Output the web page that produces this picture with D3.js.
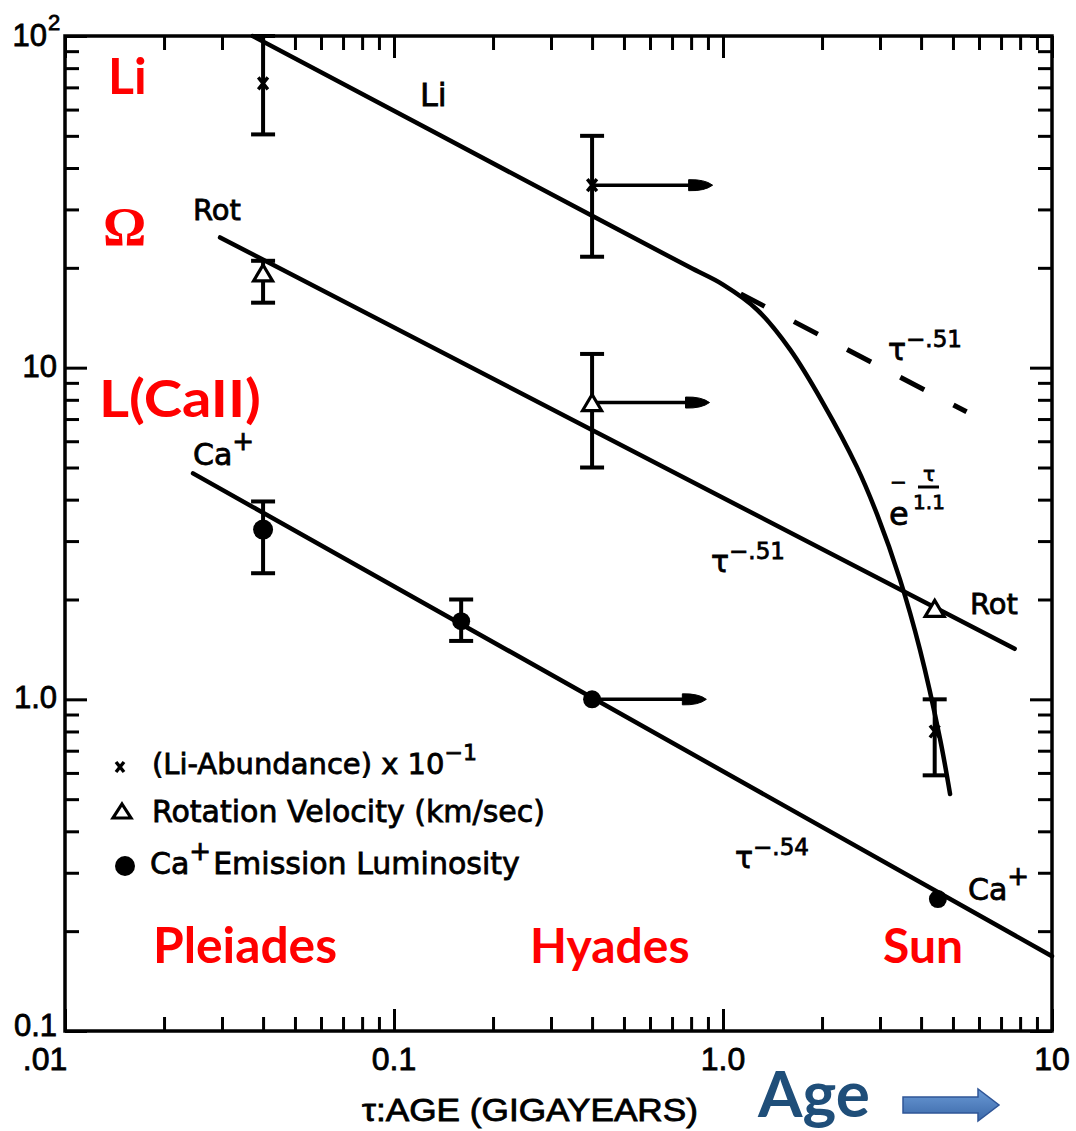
<!DOCTYPE html>
<html>
<head>
<meta charset="utf-8">
<script src="https://cdn.jsdelivr.net/npm/d3@7"></script>
<style>
  body { margin: 0; background: #fff; }
  svg { display: block; }
  .lbl { font-family: "DejaVu Sans", sans-serif; fill: #000; stroke: #000; stroke-width: 0.8; }
  .num { font-family: "Liberation Sans", Arial, sans-serif; fill: #000; stroke: #000; stroke-width: 0.8; }
  .red { font-family: Lato, "Open Sans", sans-serif; font-weight: 700; fill: #ff0000; }
</style>
</head>
<body>
<svg id="chart" width="1076" height="1131"></svg>
<script>
// ---------- axis ticks ----------
const xTickValues = [0.01, 0.1, 1, 10];
const xTickLabels = [".01", "0.1", "1.0", "10"];
const yTickValues = [0.1, 1, 10, 100];
const yTickLabels = ["0.1", "1.0", "10", "10"];   // top one carries a superscript 2

// ---------- observations (age in Gyr) ----------
// Li abundance x 10^-1
const liAges   = [0.04, 0.4, 4.4];
const liValues = [72, 35.5, 0.80];
const liLow    = [50.5, 21.6, 0.59];
const liHigh   = [100, 50, 1.0];

// rotation velocity (km/s)
const rotAges   = [0.04, 0.4, 4.4];
const rotValues = [19.3, 7.85, 1.88];
const rotLow    = [15.7, 5.0, null];
const rotHigh   = [21, 11, null];

// Ca+ emission luminosity
const caAges   = [0.04, 0.16, 0.4, 4.5];
const caValues = [3.25, 1.72, 1.0, 0.25];
const caLow    = [2.4, 1.5, null, null];
const caHigh   = [3.95, 2.0, null, null];

// Hyades age lower limits: arrows from the point out to this age
const arrowFromAge = [0.4, 0.4, 0.4];
const arrowToAge   = [0.93, 0.91, 0.89];
const arrowValue   = [35.5, 7.85, 1.0];

// ---------- fitted relations ----------
const liFitAges   = [0.0372, 0.4, 0.79];             // tau^-.51, solid
const liFitValues = [100, 28.7, 20.1];
const liDecayAges   = [1.0, 1.27, 1.6, 2.01, 2.55, 2.94, 3.45, 3.97, 4.57, 4.9];   // e^(-tau/1.1) fall-off
const liDecayValues = [17.8, 14.95, 11.33, 7.85, 5.03, 3.61, 2.30, 1.41, 0.758, 0.518];
const liExtAges   = [1.0, 5.5];                      // tau^-.51 continued, dashed
const liExtValues = [17.8, 7.36];
const rotFitAges   = [0.0296, 7.7];
const rotFitValues = [24.7, 1.42];
const caFitAges    = [0.0245, 10];
const caFitValues  = [4.8, 0.168];

// ---------- layout ----------
const L = 65, R = 1052, T = 36, B = 1031;
const svg = d3.select("#chart");
const x = d3.scaleLog().domain([0.01, 10]).range([L, R]);
const y = d3.scaleLog().domain([0.1, 100]).range([B, T]);

const isMajor = v => Math.abs(Math.log10(v) - Math.round(Math.log10(v))) < 1e-9;
const xMinor = x.ticks().filter(v => !isMajor(v));
const yMinor = y.ticks().filter(v => !isMajor(v));

function styleAxis(g) {
  g.select(".domain").remove();
  g.selectAll(".tick line").attr("stroke", "#000").attr("stroke-width", 3);
  g.selectAll(".tick text").remove();
}
const axes = [
  [d3.axisBottom, x, `translate(0,${B})`, xMinor, xTickValues],
  [d3.axisTop,    x, `translate(0,${T})`, xMinor, xTickValues],
  [d3.axisLeft,   y, `translate(${L},0)`, yMinor, yTickValues],
  [d3.axisRight,  y, `translate(${R},0)`, yMinor, yTickValues]
];
axes.forEach(([fn, sc, tr, minor, major]) => {
  svg.append("g").attr("transform", tr).call(fn(sc).tickValues(minor).tickSize(-14).tickFormat("")).call(styleAxis);
  svg.append("g").attr("transform", tr).call(fn(sc).tickValues(major).tickSize(-22).tickFormat("")).call(styleAxis);
});

svg.append("rect").attr("x", L).attr("y", T).attr("width", R - L).attr("height", B - T)
  .attr("fill", "none").attr("stroke", "#000").attr("stroke-width", 3.5);

// tick labels
xTickValues.forEach((v, i) => {
  svg.append("text").attr("class", "num").attr("x", x(v) + (i === 0 ? -20 : 0)).attr("y", B + 39)
    .attr("text-anchor", "middle").attr("font-size", 32).text(xTickLabels[i]);
});
yTickValues.forEach((v, i) => {
  const t = svg.append("text").attr("class", "num").attr("x", L - 8).attr("y", y(v) + (v === 0.1 ? 5 : 9))
    .attr("text-anchor", "end").attr("font-size", 31).text(yTickLabels[i]);
  if (v === 100) {
    t.attr("x", L - 18).attr("y", y(v) + 10);
    svg.append("text").attr("class", "num").attr("x", L - 17).attr("y", y(v) - 6)
      .attr("font-size", 22).text("2");
  }
});

svg.append("text").attr("class", "num").attr("x", 362).attr("y", 1121)
  .attr("font-size", 31).attr("textLength", 336).attr("lengthAdjust", "spacingAndGlyphs")
  .text("\u03c4:AGE  (GIGAYEARS)");

// ---------- fitted lines ----------
const line = d3.line().x(d => x(d[0])).y(d => y(d[1]));
const curve = d3.line().x(d => x(d[0])).y(d => y(d[1])).curve(d3.curveCatmullRom.alpha(0.5));
const lineStyle = p => p.attr("fill", "none").attr("stroke", "#000").attr("stroke-width", 4.5).attr("stroke-linecap", "round");

svg.append("path")
  .attr("d", curve(d3.zip(liFitAges, liFitValues).concat(d3.zip(liDecayAges, liDecayValues))))
  .call(lineStyle);
svg.append("path").attr("d", line(d3.zip(liExtAges, liExtValues))).call(lineStyle)
  .attr("stroke-linecap", "butt").attr("stroke-width", 5).attr("stroke-dasharray", "0 20 27 13");
svg.append("path").attr("d", line(d3.zip(rotFitAges, rotFitValues))).call(lineStyle);
svg.append("path").attr("d", line(d3.zip(caFitAges, caFitValues))).call(lineStyle);

// ---------- error bars ----------
function errorBars(ages, lows, highs) {
  ages.forEach((a, i) => {
    if (lows[i] == null) return;
    const cx = x(a), y0 = y(lows[i]), y1 = y(highs[i]);
    const g = svg.append("g").attr("stroke", "#000").attr("stroke-width", 4);
    g.append("line").attr("x1", cx).attr("x2", cx).attr("y1", y0).attr("y2", y1);
    g.append("line").attr("x1", cx - 12).attr("x2", cx + 12).attr("y1", y0).attr("y2", y0);
    g.append("line").attr("x1", cx - 12).attr("x2", cx + 12).attr("y1", y1).attr("y2", y1);
  });
}
errorBars(liAges, liLow, liHigh);
errorBars(rotAges, rotLow, rotHigh);
errorBars(caAges, caLow, caHigh);

// ---------- age lower-limit arrows ----------
arrowFromAge.forEach((a, i) => {
  const x0 = x(a), x1 = x(arrowToAge[i]), yy = y(arrowValue[i]);
  svg.append("line").attr("x1", x0).attr("x2", x1 - 16).attr("y1", yy).attr("y2", yy)
    .attr("stroke", "#000").attr("stroke-width", 3.5);
  svg.append("path")
    .attr("d", `M${x1},${yy} Q${x1 - 8},${yy - 6} ${x1 - 24},${yy - 5.5} L${x1 - 24},${yy + 5.5} Q${x1 - 8},${yy + 6} ${x1},${yy} Z`)
    .attr("fill", "#000").attr("stroke", "#000").attr("stroke-width", 1);
});

// ---------- markers ----------
const cross = (g, cx, cy, s) => g.append("path")
  .attr("d", `M${cx - s * 0.8},${cy - s} L${cx + s * 0.8},${cy + s} M${cx + s * 0.8},${cy - s} L${cx - s * 0.8},${cy + s}`)
  .attr("stroke", "#000").attr("stroke-width", 3.4).attr("fill", "none");
const tri = (g, cx, cy, w, h) => g.append("path")
  .attr("d", `M${cx},${cy - h / 2} L${cx + w / 2},${cy + h / 2} L${cx - w / 2},${cy + h / 2} Z`)
  .attr("fill", "#fff").attr("stroke", "#000").attr("stroke-width", 3.2).attr("stroke-linejoin", "miter");

liAges.forEach((a, i) => cross(svg, x(a), y(liValues[i]), 6));
rotAges.forEach((a, i) => tri(svg, x(a), y(rotValues[i]), 19, 16));
svg.selectAll("circle.ca").data(d3.zip(caAges, caValues)).join("circle").attr("class", "ca")
  .attr("cx", d => x(d[0])).attr("cy", d => y(d[1])).attr("r", (d, i) => i === 0 ? 10 : 9).attr("fill", "#000");

// ---------- curve labels ----------
function supLabel(px, py, base, sup, size, supSize, dy) {
  const t = svg.append("text").attr("class", "lbl").attr("x", px).attr("y", py).attr("font-size", size);
  t.append("tspan").text(base);
  t.append("tspan").attr("font-size", supSize).attr("dy", -dy).text(sup);
  return t;
}
svg.append("text").attr("class", "lbl").attr("x", 420).attr("y", 106).attr("font-size", 32).text("Li");
svg.append("text").attr("class", "lbl").attr("x", 193).attr("y", 220).attr("font-size", 29).text("Rot");
svg.append("text").attr("class", "lbl").attr("x", 970).attr("y", 614).attr("font-size", 29).text("Rot");
supLabel(193, 465, "Ca", "+", 30, 26, 15);
supLabel(968, 900, "Ca", "+", 30, 26, 15);
supLabel(888, 360, "\u03c4", "\u2212.51", 30, 23, 13);
supLabel(711, 572, "\u03c4", "\u2212.51", 30, 23, 13);
supLabel(735, 868, "\u03c4", "\u2212.54", 30, 23, 13);

// e^(-tau/1.1)
svg.append("text").attr("class", "lbl").attr("x", 889).attr("y", 525).attr("font-size", 32).text("e");
svg.append("text").attr("class", "lbl").attr("x", 890).attr("y", 489).attr("font-size", 20).text("\u2212");
svg.append("text").attr("class", "lbl").attr("x", 929).attr("y", 481).attr("font-size", 20).attr("text-anchor", "middle").text("\u03c4");
svg.append("line").attr("x1", 918).attr("x2", 939).attr("y1", 487).attr("y2", 487).attr("stroke", "#000").attr("stroke-width", 3);
svg.append("text").attr("class", "lbl").attr("x", 929).attr("y", 509).attr("font-size", 20).attr("text-anchor", "middle").text("1.1");

// ---------- legend ----------
const leg = svg.append("g");
cross(leg, 120, 767, 5);
tri(leg, 122, 811, 18, 14);
leg.append("circle").attr("cx", 125).attr("cy", 866).attr("r", 10).attr("fill", "#000");
const l1 = leg.append("text").attr("class", "lbl").attr("x", 152).attr("y", 774).attr("font-size", 29);
l1.append("tspan").text("(Li-Abundance) x 10");
l1.append("tspan").attr("font-size", 22).attr("dy", -14).text("\u22121");
leg.append("text").attr("class", "lbl").attr("x", 152).attr("y", 822).attr("font-size", 30).text("Rotation Velocity (km/sec)");
const l3 = leg.append("text").attr("class", "lbl").attr("x", 150).attr("y", 874).attr("font-size", 30);
l3.append("tspan").text("Ca");
l3.append("tspan").attr("font-size", 26).attr("dy", -14).text("+");
l3.append("tspan").attr("dy", 14).attr("dx", 2).text("Emission Luminosity");

// ---------- annotations ----------
svg.append("text").attr("class", "red").attr("x", 108).attr("y", 94).attr("font-size", 50).text("Li");
svg.append("text").attr("x", 103).attr("y", 245).attr("font-size", 54).attr("font-weight", 700)
  .attr("font-family", "'Liberation Serif', serif").attr("fill", "#ff0000").text("\u03a9");
svg.append("text").attr("class", "red").attr("x", 99).attr("y", 417).attr("font-size", 52)
  .attr("textLength", 162).attr("lengthAdjust", "spacingAndGlyphs").text("L(CaII)");
svg.append("text").attr("class", "red").attr("x", 153).attr("y", 963).attr("font-size", 49)
  .attr("textLength", 184).attr("lengthAdjust", "spacingAndGlyphs").text("Pleiades");
svg.append("text").attr("class", "red").attr("x", 530).attr("y", 963).attr("font-size", 48).text("Hyades");
svg.append("text").attr("class", "red").attr("x", 883).attr("y", 963).attr("font-size", 48).text("Sun");

svg.append("text").attr("x", 758).attr("y", 1117).attr("font-size", 64).attr("font-weight", 700)
  .attr("font-family", "Lato, 'Open Sans', sans-serif").attr("fill", "#1f4e79").text("Age");

const grad = svg.append("defs").append("linearGradient").attr("id", "arrowFill")
  .attr("x1", 0).attr("y1", 0).attr("x2", 0).attr("y2", 1);
grad.append("stop").attr("offset", 0).attr("stop-color", "#6a9ad6");
grad.append("stop").attr("offset", 1).attr("stop-color", "#3b68a8");
svg.append("path")
  .attr("d", "M903,1097 H978 V1089 L999,1105 L978,1121 V1113 H903 Z")
  .attr("fill", "url(#arrowFill)").attr("stroke", "#2f5597").attr("stroke-width", 1.5);
</script>
</body>
</html>
